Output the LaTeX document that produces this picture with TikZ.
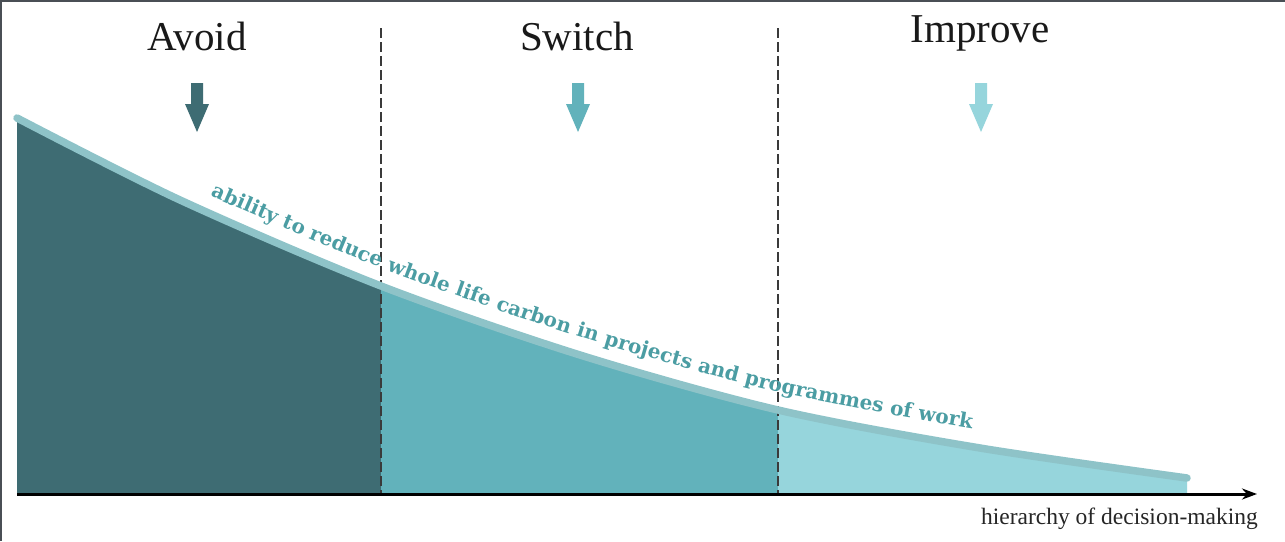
\documentclass[tikz,border=0pt]{standalone}
\usepackage{fontspec}
\setmainfont{Liberation Serif}
\newfontfamily\curvefont{DejaVu Serif}
\usetikzlibrary{decorations.text,arrows.meta}
\definecolor{avoidcol}{HTML}{3E6C73}
\definecolor{switchcol}{HTML}{62B2BB}
\definecolor{improvecol}{HTML}{96D5DC}
\definecolor{curvecol}{HTML}{8EC3C8}
\definecolor{curvetext}{HTML}{4B9DA3}
\definecolor{framecol}{HTML}{4A4F55}
\definecolor{dividercol}{HTML}{3A3A3A}
\newcommand\curvetextfont{\curvefont\bfseries\fontsize{20}{23}\selectfont}
\tikzset{
  heading/.style={anchor=base, inner sep=0pt, font=\fontsize{41}{48}\selectfont, text=black!90},
  divider/.style={draw=dividercol, line width=1.3pt, dash pattern=on 10pt off 4pt},
  axisline/.style={draw=black, line width=3pt, -{Stealth[length=15pt,width=11pt]}},
  curveline/.style={draw=curvecol, line width=7.5pt, line cap=round},
  axislabel/.style={anchor=base east, inner sep=0pt, font=\fontsize{23.5}{28}\selectfont, text=black!85},
  downarrow/.pic={\fill (-6,0) -- (6,0) -- (6,21) -- (12,21) -- (0,49) -- (-12,21) -- (-6,21) -- cycle;}
}
\begin{document}
\begin{tikzpicture}[x=1pt,y=-1pt]
\useasboundingbox (0,0) rectangle (1285,541);
\fill[white] (0,0) rectangle (1285,541);
% frame (top and left)
\draw[framecol, line width=2.5pt] (1,541) -- (1,1) -- (1285,1);
% curve points
\coordinate (c1) at (17,118);
\coordinate (c2) at (180,200);
\coordinate (c3) at (381,286);
\coordinate (c4) at (580,355);
\coordinate (c5) at (778,410);
\coordinate (c6) at (980,448);
\coordinate (c7) at (1187,478);
\coordinate (b0) at (17,494);
\coordinate (b7) at (1187,494);
% fills
\begin{scope}
  \clip (17,0) rectangle (381,500);
  \fill[avoidcol] plot[smooth] coordinates {(c1) (c2) (c3) (c4) (c5) (c6) (c7)} -- (b7) -- (b0) -- cycle;
\end{scope}
\begin{scope}
  \clip (381,0) rectangle (778,500);
  \fill[switchcol] plot[smooth] coordinates {(c1) (c2) (c3) (c4) (c5) (c6) (c7)} -- (b7) -- (b0) -- cycle;
\end{scope}
\begin{scope}
  \clip (778,0) rectangle (1187,500);
  \fill[improvecol] plot[smooth] coordinates {(c1) (c2) (c3) (c4) (c5) (c6) (c7)} -- (b7) -- (b0) -- cycle;
\end{scope}
% dividers
\coordinate (d1t) at (381,28);
\coordinate (d1b) at (381,494);
\coordinate (d2t) at (778,28);
\coordinate (d2b) at (778,494);
\draw[divider] (d1t) -- (d1b);
\draw[divider] (d2t) -- (d2b);
% curve
\draw[curveline] plot[smooth] coordinates {(c1) (c2) (c3) (c4) (c5) (c6) (c7)};
% text along the curve
\path[decorate, decoration={text along path, text color=curvetext,
  text align={left indent=216pt},
  text={|\curvetextfont|ability to reduce whole life carbon in projects and programmes of work}}]
  plot[smooth] coordinates {(17,100) (180,182) (381,268) (580,337) (778,392) (980,430) (1187,460)};
% axis
\coordinate (axstart) at (17,494);
\coordinate (axend) at (1257,494);
\draw[axisline] (axstart) -- (axend);
\node[axislabel] (axlabel) at (1258,524) {hierarchy of decision-making};
% headings
\node[heading] (avoid) at (197,50) {Avoid};
\node[heading] (switch) at (577,50) {Switch};
\node[heading] (improve) at (980,42) {Improve};
% arrows
\pic[avoidcol] (avoidarrow) at (197,83) {downarrow};
\pic[switchcol] (switcharrow) at (578,83) {downarrow};
\pic[improvecol] (improvearrow) at (981,83) {downarrow};
\end{tikzpicture}
\end{document}
